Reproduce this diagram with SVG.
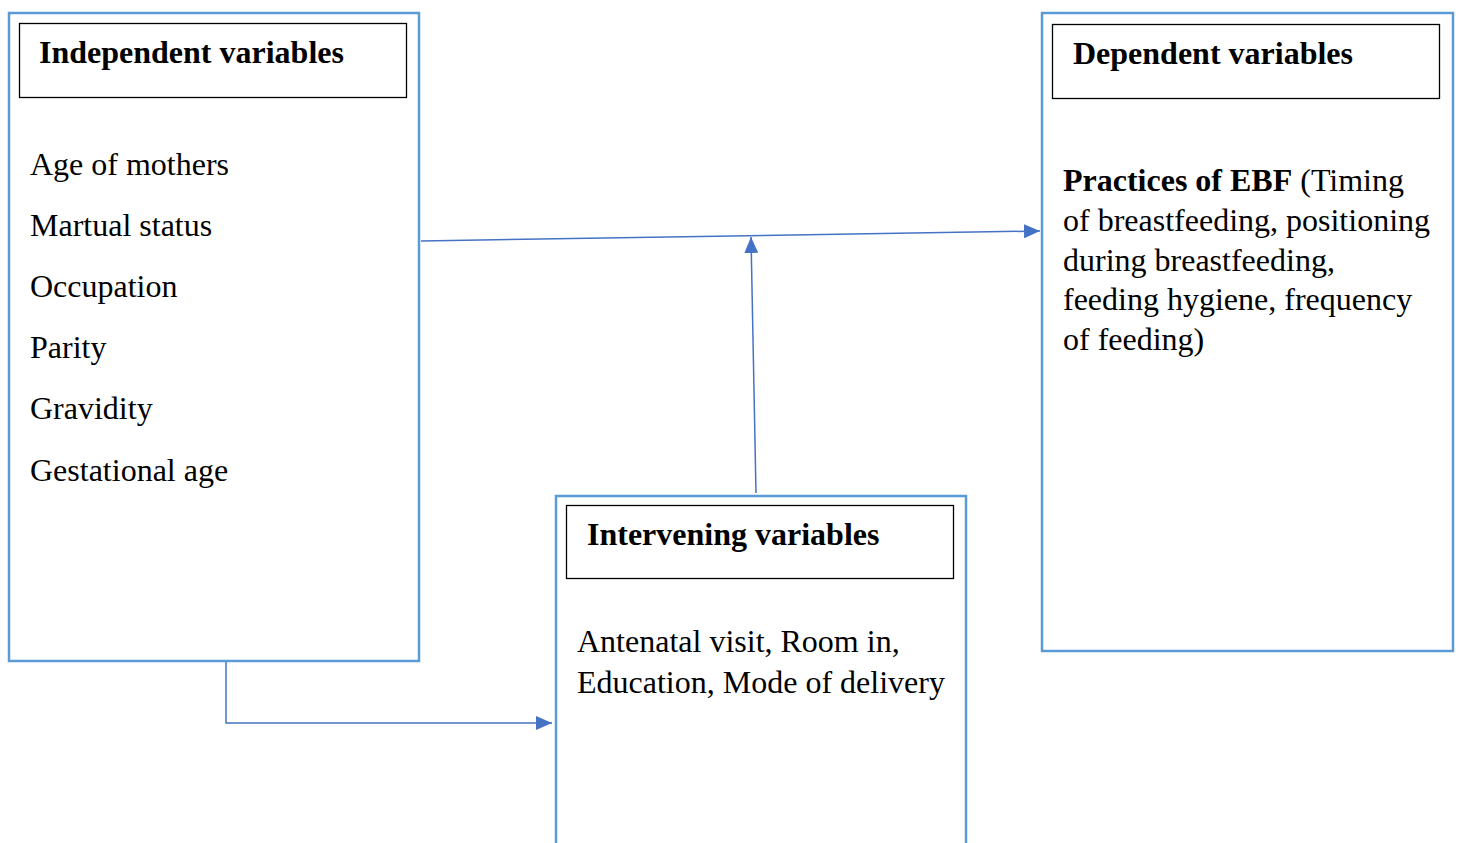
<svg xmlns="http://www.w3.org/2000/svg" width="1458" height="843" viewBox="0 0 1458 843">
<defs>
<style>
.outer{fill:#fff;stroke:#5b9bd5;stroke-width:2.5}
.inner{fill:#fff;stroke:#000;stroke-width:1.3}
.h{font-family:"Liberation Serif","Times New Roman",serif;font-weight:bold;font-size:32px;fill:#000}
.t{font-family:"Liberation Serif","Times New Roman",serif;font-size:32px;fill:#000}
.c{fill:none;stroke:#4472c4;stroke-width:1.5}
</style>
<marker id="ah" viewBox="0 0 16 14" refX="16" refY="7" markerWidth="16" markerHeight="14" markerUnits="userSpaceOnUse" orient="auto">
<path d="M0,0 L16,7 L0,14 z" fill="#4472c4"/>
</marker>
</defs>
<rect width="1458" height="843" fill="#fff"/>
<g id="independent">
<rect class="outer" x="9" y="13" width="410" height="648"/>
<rect class="inner" x="19.5" y="23.5" width="387" height="74"/>
<text class="h" x="39" y="63">Independent variables</text>
<text class="t" x="30" y="175">Age of mothers</text>
<text class="t" x="30" y="236">Martual status</text>
<text class="t" x="30" y="297">Occupation</text>
<text class="t" x="30" y="358">Parity</text>
<text class="t" x="30" y="419">Gravidity</text>
<text class="t" x="30" y="481">Gestational age</text>
</g>
<g id="dependent">
<rect class="outer" x="1042" y="13" width="411" height="638"/>
<rect class="inner" x="1052.5" y="24.5" width="387" height="74"/>
<text class="h" x="1073" y="64">Dependent variables</text>
<text class="t" x="1063" y="191"><tspan font-weight="bold">Practices of EBF</tspan> (Timing</text>
<text class="t" x="1063" y="231">of breastfeeding, positioning</text>
<text class="t" x="1063" y="271">during breastfeeding,</text>
<text class="t" x="1063" y="310">feeding hygiene, frequency</text>
<text class="t" x="1063" y="350">of feeding)</text>
</g>
<g id="intervening">
<rect class="outer" x="556" y="496" width="410" height="360"/>
<rect class="inner" x="566.5" y="505.5" width="387" height="73"/>
<text class="h" x="587" y="545">Intervening variables</text>
<text class="t" x="577" y="652">Antenatal visit, Room in,</text>
<text class="t" x="577" y="693">Education, Mode of delivery</text>
</g>
<g id="connectors">
<line class="c" x1="421" y1="241" x2="1040" y2="231" marker-end="url(#ah)"/>
<line class="c" x1="756" y1="493" x2="751" y2="237" marker-end="url(#ah)"/>
<polyline class="c" points="226,662 226,723 552,723" marker-end="url(#ah)"/>
</g>
</svg>
